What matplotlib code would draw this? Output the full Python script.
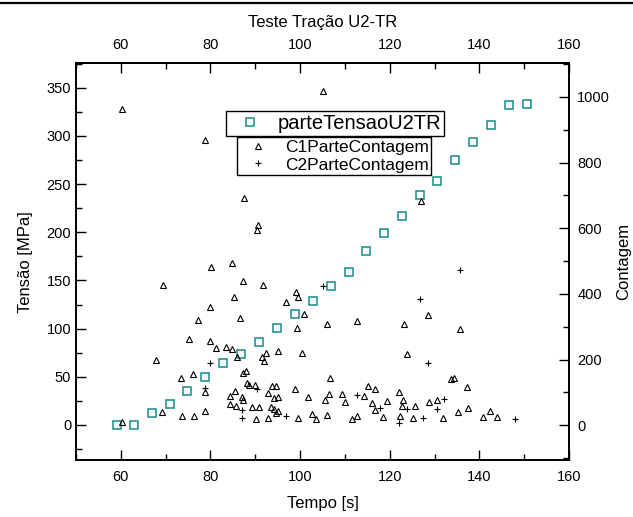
"""Teste Tracao U2-TR: tensao e contagem vs tempo."""

import matplotlib

matplotlib.use("Agg")
import matplotlib.pyplot as plt
from matplotlib.lines import Line2D

plt.rcParams["font.family"] = ["Liberation Sans", "DejaVu Sans"]

# parteTensaoU2TR (left axis, MPa)
tensao_t = [59.1, 63.0, 67.0, 70.9, 74.8, 78.8, 82.9, 86.9, 90.9, 94.8, 98.9, 102.9,
            106.8, 110.8, 114.8, 118.7, 122.7, 126.7, 130.6, 134.6, 138.6, 142.6,
            146.6, 150.6]
tensao = [0, 0, 12, 22, 35, 50, 64, 74, 86, 101, 115, 129,
          144, 159, 181, 199, 217, 239, 253, 275, 294, 311, 332, 333]

# C1ParteContagem (right axis)
c1_t = [60.2, 60.2, 67.9, 69.3, 69.2, 73.4, 73.7, 75.1, 76.1, 76.3, 77.3, 78.8,
        78.8, 78.8, 79.8, 79.9, 80.2, 81.2, 83.4, 84.7, 84.7, 84.4, 84.4, 85.3,
        85.5, 85.6, 86.0, 86.7, 87.0, 87.2, 87.2, 87.2, 87.4, 87.9, 88.2, 88.6,
        89.3, 90.0, 90.2, 90.3, 90.7, 90.8, 91.6, 91.7, 91.9, 92.3, 92.8, 92.9,
        93.4, 93.8, 94.2, 94.2, 94.6, 94.6, 95.0, 95.1, 95.1, 96.9, 98.9, 99.0,
        99.4, 99.5, 99.6, 100.5, 100.9, 101.8, 102.7, 103.5, 105.0, 105.6, 105.9,
        106.0, 106.4, 106.7, 109.3, 110.1, 111.6, 112.6, 112.8, 114.3, 115.2,
        116.0, 116.6, 116.8, 118.4, 119.3, 122.1, 122.4, 122.8, 123.0, 123.1,
        123.8, 125.3, 125.7, 126.9, 128.5, 128.8, 130.5, 131.9, 133.6, 134.3,
        135.2, 135.7, 137.2, 137.4, 140.7, 142.4, 143.9]
c1 = [963, 10, 199, 428, 41, 145, 27, 264, 157, 27, 320, 870,
      101, 44, 258, 361, 482, 235, 238, 495, 233, 88, 66, 390,
      105, 59, 208, 326, 85, 78, 440, 159, 693, 165, 128, 122,
      55, 123, 20, 595, 610, 55, 207, 426, 196, 221, 97, 23,
      55, 121, 84, 50, 120, 37, 227, 87, 44, 376, 111, 407,
      297, 23, 392, 221, 339, 85, 35, 20, 1019, 76, 30,
      309, 96, 144, 96, 72, 20, 28, 319, 90, 121,
      67, 111, 48, 26, 74, 101, 29, 59, 77, 308,
      218, 21, 60, 683, 336, 72, 76, 23, 142, 145,
      41, 293, 118, 53, 24, 44, 26]

# C2ParteContagem (right axis)
c2_t = [78.8, 79.9, 87.0, 87.1, 90.3, 96.9, 105.0, 112.8, 117.8, 122.1, 123.8,
        126.8, 127.5, 128.5, 130.5, 132.0, 135.7, 148.0]
c2 = [115, 189, 47, 22, 111, 28, 424, 93, 54, 6, 50,
      384, 21, 191, 50, 81, 474, 18]

teal = "#168a8a"

fig = plt.figure(figsize=(6.33, 5.17), dpi=100)
ax = fig.add_axes([0.1201, 0.1103, 0.7788, 0.7673])
ax2 = ax.twinx()

sq, = ax.plot(tensao_t, tensao, "s", ms=5.5, mfc="none", mec=teal, mew=1.1,
              label="parteTensaoU2TR")
tri, = ax2.plot(c1_t, c1, "^", ms=4.5, mfc="none", mec="black", mew=0.8,
                label="C1ParteContagem")
crs, = ax2.plot(c2_t, c2, "+", ms=5, mec="black", mew=0.8,
                label="C2ParteContagem")

ax.set_xlim(50, 160)
ax.set_ylim(-36.3, 375.3)
ax2.set_ylim(-105.7, 1102.6)
ax.set_xticks(range(60, 161, 20))
ax.set_xticks(range(50, 161, 10), minor=True)
ax.set_yticks(range(0, 351, 50))
ax.set_yticks(range(-25, 376, 25), minor=True)
ax2.set_yticks(range(0, 1001, 200))
ax2.set_yticks(range(-100, 1101, 100), minor=True)

top = ax.secondary_xaxis("top")
top.set_xticks(range(60, 161, 20))
top.set_xticks(range(50, 161, 10), minor=True)
top.set_xlabel("Teste Tração U2-TR", fontsize=12, labelpad=8)

for a in (ax, ax2, top):
    a.tick_params(which="major", direction="in", length=7, width=1, labelsize=10.5)
    a.tick_params(which="minor", direction="in", length=4, width=1)
ax.tick_params(axis="x", pad=7)
top.tick_params(axis="x", pad=8)
ax2.tick_params(axis="y", pad=6)
for a in (ax, ax2):
    for s in a.spines.values():
        s.set_linewidth(1.2)
top.spines["top"].set_linewidth(1.2)

ax.set_xlabel("Tempo [s]", fontsize=12, labelpad=9)
ax.set_ylabel("Tensão [MPa]", fontsize=12, labelpad=10)
ax2.set_ylabel("Contagem", fontsize=12, labelpad=4)

leg_kw = dict(fancybox=False, edgecolor="black", framealpha=1, fontsize=12.5,
              borderaxespad=0, handlelength=2.1, borderpad=0.15,
              labelspacing=0.15)
leg1 = ax2.legend(handles=[sq], loc="upper left", bbox_to_anchor=(0.3043, 0.8797),
                  handletextpad=0.3, prop={"size": 14.5}, **{k: v for k, v in leg_kw.items() if k != "fontsize"})
leg1.get_frame().set_linewidth(1)
ax2.add_artist(leg1)
leg2 = ax2.legend(handles=[tri, crs], loc="upper left",
                  bbox_to_anchor=(0.3266, 0.8142), handletextpad=0.5, **leg_kw)
leg2.get_frame().set_linewidth(1)

fig.add_artist(Line2D([0, 1], [0.994, 0.994], transform=fig.transFigure,
                      color="black", lw=1.6))

fig.savefig("out.png", dpi=100)
